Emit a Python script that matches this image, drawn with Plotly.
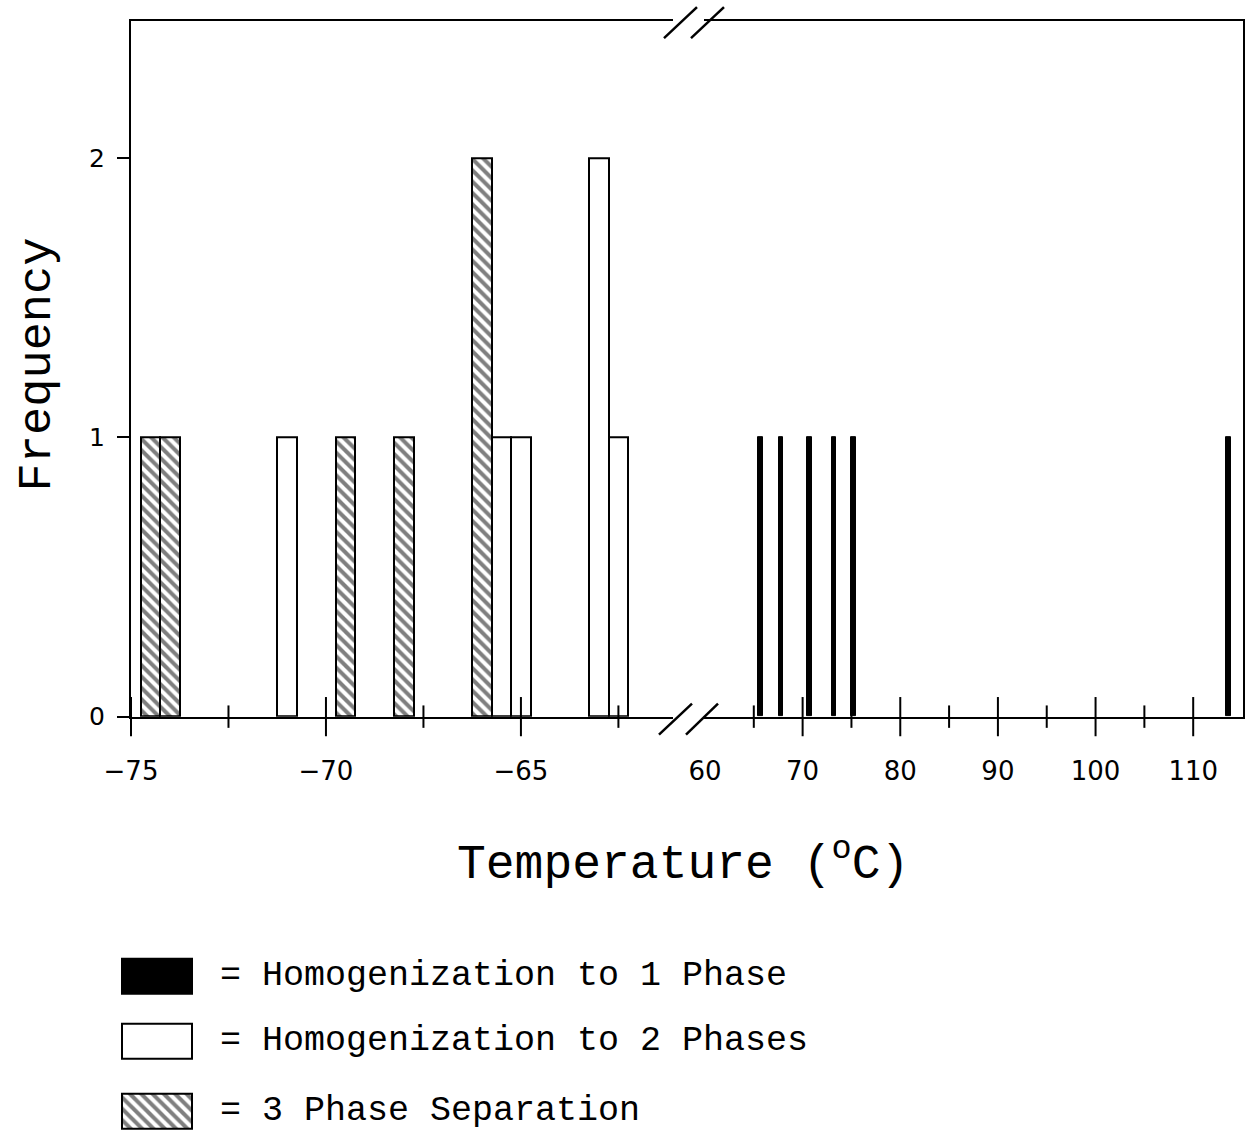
import plotly.graph_objects as go

# ---------------- data ----------------
hatched_x = [-74.5, -74.0, -69.5, -68.0, -66.0]
hatched_y = [1, 1, 1, 1, 2]
open_x = [-71.0, -65.5, -65.0, -63.0, -62.5]
open_y = [1, 1, 1, 2, 1]
solid_x = [65.7, 67.8, 70.7, 73.2, 75.2, 113.6]
solid_y = [1, 1, 1, 1, 1, 1]

left_major = [-75, -70, -65]
left_major_text = ["\u221275", "\u221270", "\u221265"]
left_minor = [-72.5, -67.5, -62.5]
right_labels = [60, 70, 80, 90, 100, 110]
right_major = [70, 80, 90, 100, 110]
right_minor = [65, 75, 85, 95, 105]
y_ticks = [0, 1, 2]

legend_labels = ["= Homogenization to 1 Phase",
                 "= Homogenization to 2 Phases",
                 "= 3 Phase Separation"]

# ---------------- geometry helpers ----------------
W = 1254
H = 1151               # layout height (renders into the 1135 px picture)
S = H / 1135.0
ML, MR, MT, MB = 100, 11, 10, 5
PW, PH = W - ML - MR, H - MT - MB


def px(x):
    return (x - ML) / PW


def py(y):
    return (H - MB - y * S) / PH


y_dom = [py(716), py(21)]
left_dom = [px(131), px(673)]
right_dom = [px(704), 1.0]
leg_top = 950
leg_dom = [0.0, py(leg_top)]


def ly(y):
    """pixel row -> legend axis value"""
    return (1130 - y) * S


BLACK = "black"
tickfont = dict(family="DejaVu Sans", size=26, color=BLACK)
mono = "Liberation Mono"
hatch = dict(shape="\\", fgcolor=BLACK, bgcolor="white", size=8, solidity=0.5)

fig = go.Figure()

fig.add_trace(go.Bar(
    x=hatched_x, y=hatched_y, width=0.5, xaxis="x", yaxis="y",
    marker=dict(color="white", line=dict(color=BLACK, width=2), pattern=hatch),
    showlegend=False))
fig.add_trace(go.Bar(
    x=open_x, y=open_y, width=0.5, xaxis="x", yaxis="y",
    marker=dict(color="white", line=dict(color=BLACK, width=2)),
    showlegend=False))
fig.add_trace(go.Bar(
    x=solid_x, y=solid_y, width=0.45, xaxis="x2", yaxis="y2",
    marker=dict(color=BLACK, line=dict(color=BLACK, width=1)),
    showlegend=False))

# tick marks that cross the axis line
for xs, size, xa, ya in [(left_major, 28, "x", "y"), (left_minor, 16, "x", "y"),
                         (right_major, 28, "x2", "y2"), (right_minor, 16, "x2", "y2")]:
    fig.add_trace(go.Scatter(
        x=xs, y=[0] * len(xs), xaxis=xa, yaxis=ya, mode="markers",
        marker=dict(symbol="line-ns", size=size, line=dict(width=2, color=BLACK)),
        cliponaxis=False, showlegend=False, hoverinfo="skip"))

# legend patches (drawn on a hidden pixel-scaled axis)
leg_rows = [975, 1040, 1110]
leg_styles = [
    dict(color=BLACK, line=dict(color=BLACK, width=2)),
    dict(color="white", line=dict(color=BLACK, width=2)),
    dict(color="white", line=dict(color=BLACK, width=2), pattern=hatch),
]
for row, st in zip(leg_rows, leg_styles):
    fig.add_trace(go.Bar(x=[70], y=[ly(row)], base=[22], orientation="h",
                         width=[35 * S], xaxis="x6", yaxis="y6", marker=st,
                         showlegend=False))

axis_common = dict(showgrid=False, zeroline=False)

fig.update_layout(
    width=W, height=H, autosize=False,
    margin=dict(l=ML, r=MR, t=MT, b=MB),
    paper_bgcolor="white", plot_bgcolor="white",
    barmode="overlay", bargap=0,
    xaxis=dict(domain=left_dom, range=[-75.0, -61.1], anchor="y",
               showline=True, mirror=True, linecolor=BLACK, linewidth=2,
               ticks="", tickvals=left_major, ticktext=left_major_text,
               tickfont=tickfont, ticklabelstandoff=30, **axis_common),
    yaxis=dict(domain=y_dom, range=[0, 2.49], anchor="x",
               showline=True, linecolor=BLACK, linewidth=2,
               ticks="outside", ticklen=12, tickwidth=2, tickcolor=BLACK,
               tickvals=y_ticks,
               tickfont=dict(family="DejaVu Sans", size=25, color=BLACK),
               ticklabelstandoff=7, **axis_common),
    xaxis2=dict(domain=right_dom, range=[59.9, 115.1], anchor="y2",
                showline=True, mirror=True, linecolor=BLACK, linewidth=2,
                ticks="", tickvals=right_labels, tickfont=tickfont,
                ticklabelstandoff=30, **axis_common),
    yaxis2=dict(domain=y_dom, range=[0, 2.49], anchor="x2", side="right",
                showline=True, linecolor=BLACK, linewidth=2, ticks="",
                showticklabels=False, **axis_common),
    xaxis6=dict(domain=[0, 1], range=[0, PW], anchor="y6", visible=False, **axis_common),
    yaxis6=dict(domain=leg_dom, range=[0, leg_dom[1] * PH], anchor="x6",
                visible=False, **axis_common),
)

# axis-break marks
lw = 2.5
for (x0, y0, x1, y1) in [(659, 734, 692, 703), (686, 734, 718, 703),
                         (664, 38, 697, 7), (691, 38, 724, 7)]:
    fig.add_shape(type="line", xref="paper", yref="paper",
                  x0=px(x0), y0=py(y0), x1=px(x1), y1=py(y1),
                  line=dict(color=BLACK, width=lw))

fig.add_annotation(text="Temperature (<sup>o</sup>C)", xref="paper", yref="paper",
                   x=px(683), y=py(860), xanchor="center", yanchor="middle",
                   showarrow=False, font=dict(family=mono, size=48, color=BLACK))
fig.add_annotation(text="Frequency", xref="paper", yref="paper",
                   x=px(37), y=py(364), xanchor="center", yanchor="middle",
                   textangle=-90, showarrow=False,
                   font=dict(family=mono, size=47, color=BLACK))

for row, lab in zip(leg_rows, legend_labels):
    fig.add_annotation(text=lab, xref="x6", yref="y6", x=118, y=ly(row),
                       xanchor="left", yanchor="middle", showarrow=False,
                       font=dict(family=mono, size=35, color=BLACK))

fig.write_html("out.html", config={"responsive": False})
